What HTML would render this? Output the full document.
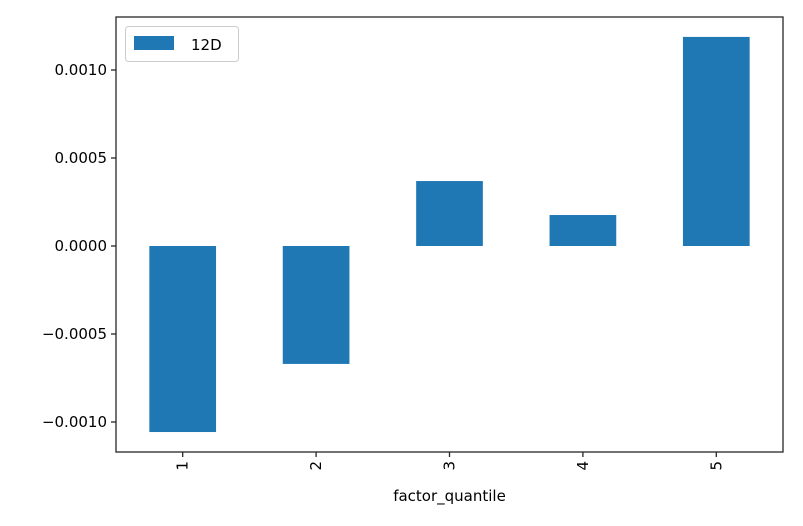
<!DOCTYPE html>
<html><head><meta charset="utf-8"><style>
body{margin:0;background:#fff;}
svg text{font-family:"DejaVu Sans","Liberation Sans",sans-serif;fill:#000;}
</style></head><body>
<svg width="803" height="521" xmlns="http://www.w3.org/2000/svg">
<g id="bars"></g>
<g id="axes"></g>
<g>
<rect x="125.5" y="26.5" width="113" height="35" rx="3" fill="#fff" stroke="#ccc"/>
<rect x="134" y="36" width="40" height="14" fill="#1f77b4"/>
<text x="191" y="50" font-size="15">12D</text>
</g>
<text x="449.5" y="501" font-size="15" text-anchor="middle">factor_quantile</text>
</svg>
<script>
const categories = ["1","2","3","4","5"];
const values = [-0.001057, -0.00067, 0.000369, 0.000176, 0.001188];
const yTicks = [-0.001, -0.0005, 0, 0.0005, 0.001];
const yTickLabels = ["\u22120.0010","\u22120.0005","0.0000","0.0005","0.0010"];
const L=116,R=783,T=17,B=452;
const ns="http://www.w3.org/2000/svg";
function y(v){return 246 - v*176000;}
function xc(i){return L+(R-L)/categories.length*(i+0.5);}
const bw=(R-L)/categories.length*0.5;
const bars=document.getElementById('bars'), axes=document.getElementById('axes');
function mk(tag,attrs,parent){const e=document.createElementNS(ns,tag);for(const k in attrs)e.setAttribute(k,attrs[k]);parent.appendChild(e);return e;}
values.forEach((v,i)=>{
  const r=mk('rect',{x:xc(i)-bw/2,y:Math.min(y(v),y(0)),width:bw,height:Math.abs(y(v)-y(0)),fill:'#1f77b4'},bars);
  
  
});
const frame=mk('rect',{x:L,y:T,width:R-L,height:B-T,fill:'none',stroke:'#262626','stroke-width':1.3},axes);


yTicks.forEach((t,i)=>{
  const yy=y(t);
  const tk=mk('line',{x1:L-5,x2:L,y1:yy,y2:yy,stroke:'#262626','stroke-width':1.3},axes);
  
  
  const tx=mk('text',{x:L-9,y:yy+5,'font-size':15,'text-anchor':'end'},axes);
  tx.textContent=yTickLabels[i];
  
  
});
categories.forEach((c,i)=>{
  const xx=xc(i);
  const tk=mk('line',{x1:xx,x2:xx,y1:B,y2:B+5,stroke:'#262626','stroke-width':1.3},axes);
  
  
  const tx=mk('text',{x:0,y:0,'font-size':15,'text-anchor':'end',transform:`translate(${xx+5},${B+9}) rotate(-90)`},axes);
  tx.textContent=c;
  
  
});
</script>
</body></html>
